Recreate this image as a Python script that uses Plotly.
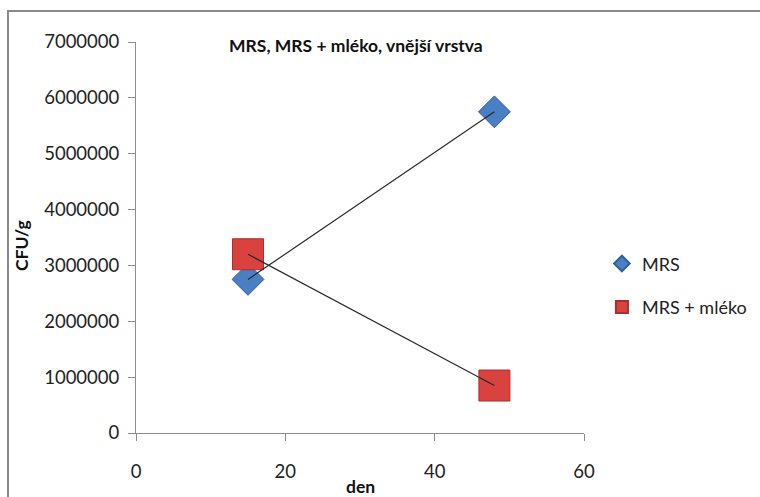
import plotly.graph_objects as go

# Sampling days and colony counts (CFU/g), outer layer
days = [15, 48]
mrs_cfu = [2750000, 5750000]
mrs_mleko_cfu = [3200000, 850000]

series_names = ["MRS", "MRS + mléko"]
x_ticks = [0, 20, 40, 60]
y_ticks = [0, 1000000, 2000000, 3000000, 4000000, 5000000, 6000000, 7000000]

chart_title = "MRS, MRS + mléko, vnější vrstva"
x_title = "den"
y_title = "CFU/g"

FONT = "Lato"
AXIS_GRAY = "#8c8c8c"

fig = go.Figure()

# Markers (legend entries)
fig.add_trace(go.Scatter(
    x=days, y=mrs_cfu, mode="markers", name=series_names[0],
    legendgroup="a",
    marker=dict(symbol="diamond", size=24.5, color="#4a7fc4",
                line=dict(color="#2f5f9e", width=1)),
))
fig.add_trace(go.Scatter(
    x=days, y=mrs_mleko_cfu, mode="markers", name=series_names[1],
    legendgroup="b",
    marker=dict(symbol="square", size=31, color="#d9423f",
                line=dict(color="#a8302d", width=1)),
))

# Connecting lines drawn over the markers
for ys in (mrs_cfu, mrs_mleko_cfu):
    fig.add_trace(go.Scatter(
        x=days, y=ys, mode="lines", showlegend=False, hoverinfo="skip",
        line=dict(color="#2a2a2a", width=1.2),
    ))

axis_common = dict(
    showgrid=False, zeroline=False, showline=True, linecolor=AXIS_GRAY,
    linewidth=1, ticks="outside", tickcolor=AXIS_GRAY, ticklen=7,
    tickfont=dict(family=FONT, size=18.5, color="#222222"),
    automargin=False,
)

fig.update_layout(
    width=760, height=497,
    margin=dict(l=136, r=176, t=42, b=64, autoexpand=False),
    paper_bgcolor="white", plot_bgcolor="white",
    font=dict(family=FONT, color="#222222"),
    xaxis=dict(range=[0, 60], tickvals=x_ticks, ticklabelstandoff=15,
               **axis_common),
    yaxis=dict(range=[0, 7000000], tickvals=y_ticks,
               ticktext=[str(v) for v in y_ticks], ticklabelstandoff=5,
               **axis_common),
    legend=dict(x=1.04, y=0.48, xanchor="left", yanchor="top",
                font=dict(family=FONT, size=18, color="#222222"),
                tracegroupgap=17, itemsizing="constant", itemwidth=30,
                bgcolor="rgba(0,0,0,0)"),
    annotations=[
        dict(text="<b>" + chart_title + "</b>", xref="paper", yref="paper",
             x=0.49, y=0.99, xanchor="center", yanchor="middle",
             showarrow=False, font=dict(family=FONT, size=17.5, color="#111111")),
        dict(text="<b>" + x_title + "</b>", xref="paper", yref="paper",
             x=0.5, y=-0.137, xanchor="center", yanchor="middle",
             showarrow=False, font=dict(family=FONT, size=17.5, color="#111111")),
        dict(text="<b>" + y_title + "</b>", xref="paper", yref="paper",
             x=-0.255, y=0.48, xanchor="center", yanchor="middle",
             textangle=-90, showarrow=False,
             font=dict(family=FONT, size=17.5, color="#111111")),
    ],
    shapes=[
        dict(type="rect", xref="paper", yref="paper",
             x0=-0.2857, x1=1.43, y0=-0.2, y1=1.079,
             line=dict(color="#8a8a8a", width=2), fillcolor="rgba(0,0,0,0)",
             layer="below"),
    ],
)

fig.write_html("out.html")
